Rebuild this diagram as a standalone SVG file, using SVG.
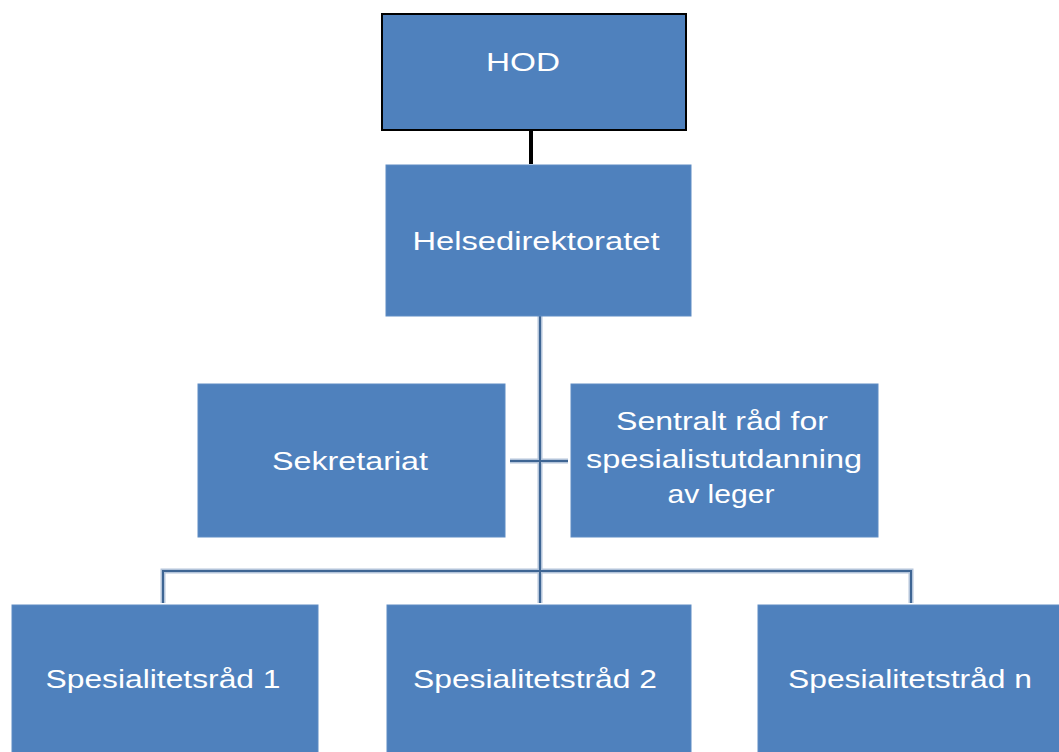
<svg xmlns="http://www.w3.org/2000/svg" width="1059" height="752" viewBox="0 0 1059 752">
<style>
.box{fill:#4f81bd;stroke:#5e8cc4;stroke-width:1}
.t{font-family:"Liberation Sans",Arial,sans-serif;font-size:25px;fill:#ffffff;text-anchor:middle}
.glow{stroke:#b3c4da;stroke-width:5;fill:none}
.ln{stroke:#3e6593;stroke-width:2;fill:none}
</style>
<rect width="1059" height="752" fill="#ffffff"/>
<g id="connectors">
<line x1="531" y1="130" x2="531" y2="164" stroke="#000" stroke-width="4"/>
<path class="glow" d="M540 316V573M510 461H568M163 603V571H911V603M540 571V603"/>
<path class="ln" d="M540 316V573M510 461H568M163 603V571H911V603M540 571V603"/>
</g>
<g id="hod">
<rect x="382" y="14" width="304" height="116" fill="#4f81bd" stroke="#000" stroke-width="2"/>
<text class="t" x="523" y="71" font-size="36" textLength="74" lengthAdjust="spacingAndGlyphs">HOD</text>
</g>
<g id="helsedirektoratet">
<rect class="box" x="386" y="165" width="305" height="151"/>
<text class="t" x="536" y="250" textLength="247" lengthAdjust="spacingAndGlyphs">Helsedirektoratet</text>
</g>
<g id="sekretariat">
<rect class="box" x="198" y="384" width="307" height="153"/>
<text class="t" x="350" y="470" textLength="156" lengthAdjust="spacingAndGlyphs">Sekretariat</text>
</g>
<g id="sentralt">
<rect class="box" x="571" y="384" width="307" height="153"/>
<text class="t" x="722" y="430" textLength="212" lengthAdjust="spacingAndGlyphs">Sentralt råd for</text>
<text class="t" x="724" y="468" textLength="276" lengthAdjust="spacingAndGlyphs">spesialistutdanning</text>
<text class="t" x="721" y="503" textLength="107" lengthAdjust="spacingAndGlyphs">av leger</text>
</g>
<g id="sr1">
<rect class="box" x="12" y="605" width="306" height="150"/>
<text class="t" x="163" y="688" textLength="235" lengthAdjust="spacingAndGlyphs">Spesialitetsråd 1</text>
</g>
<g id="sr2">
<rect class="box" x="387" y="605" width="304" height="150"/>
<text class="t" x="535" y="688" textLength="244" lengthAdjust="spacingAndGlyphs">Spesialitetstråd 2</text>
</g>
<g id="srn">
<rect class="box" x="758" y="605" width="305" height="150"/>
<text class="t" x="910" y="688" textLength="244" lengthAdjust="spacingAndGlyphs">Spesialitetstråd n</text>
</g>
</svg>
